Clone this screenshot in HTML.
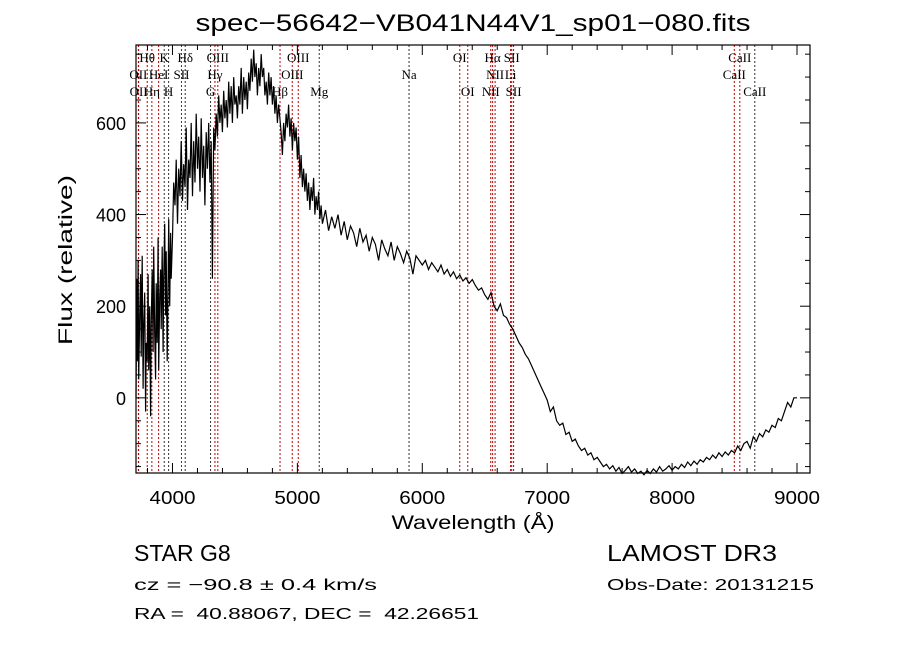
<!DOCTYPE html>
<html><head><meta charset="utf-8"><style>
body{margin:0;background:#fff;width:900px;height:649px;overflow:hidden}
svg{display:block}
text{font-family:"Liberation Sans",sans-serif;fill:#000;white-space:pre}
.ser{font-family:"Liberation Serif",serif;font-size:13px}
</style></head><body>
<svg id="chart" width="900" height="649">
<text x="473" y="31" text-anchor="middle" font-size="24" textLength="555" lengthAdjust="spacingAndGlyphs">spec−56642−VB041N44V1_sp01−080.fits</text>
<g id="lines"></g>
<g id="labels"></g>
<g id="axes"></g>
<path id="spec" fill="none" stroke="#000" stroke-width="1.2"/>
<rect x="136" y="45" width="674" height="428" fill="none" stroke="#000" stroke-width="1.2"/>
<text x="473" y="529" text-anchor="middle" font-size="19" textLength="163" lengthAdjust="spacingAndGlyphs">Wavelength (Å)</text>
<text transform="translate(72,260) rotate(-90)" text-anchor="middle" font-size="19" textLength="170" lengthAdjust="spacingAndGlyphs">Flux (relative)</text>
<text x="134" y="561" font-size="23">STAR</text>
<text x="200" y="561" font-size="23">G8</text>
<text x="134" y="590" font-size="16" textLength="243" lengthAdjust="spacingAndGlyphs">cz = −90.8 ± 0.4 km/s</text>
<text x="134" y="619" font-size="16" textLength="345" lengthAdjust="spacingAndGlyphs">RA =  40.88067, DEC =  42.26651</text>
<text x="607" y="561" font-size="23" textLength="170" lengthAdjust="spacingAndGlyphs">LAMOST DR3</text>
<text x="607" y="590" font-size="16" textLength="207" lengthAdjust="spacingAndGlyphs">Obs-Date: 20131215</text>
</svg>
<script>
const xTicks=[4000,5000,6000,7000,8000,9000];
const yTicks=[0,200,400,600];
const blueWave=[3708,3715,3720,3725,3730,3738,3745,3750,3758,3765,3770,3778,3785,3790,3798,3805,3810,3818,3825,3830,3838,3845,3850,3858,3865,3870,3878,3885,3890,3898,3905,3910,3918,3925,3930,3938,3945,3950,3958,3965,3970,3978,3985,3990,4000,4010,4020,4030,4040,4050,4060,4070,4080,4090,4100,4110,4120,4130,4140,4150,4160,4170,4180,4190,4200,4210,4220,4230,4240,4250,4260,4270,4280,4290,4300,4310,4320,4330,4340,4350,4360,4370,4380,4390,4400,4410,4420,4430,4440,4450,4460,4470,4480,4490,4500,4510,4520,4530,4540,4550,4560,4570,4580,4590,4600,4610,4620,4630,4640,4650,4660,4670,4680,4690,4700,4710,4720,4730,4740,4750,4760,4770,4780,4790,4800,4810,4820,4830,4840,4850,4860,4870,4880,4890,4900,4910,4920,4930,4940,4950,4960,4970,4980,4990,5000,5010,5020,5030,5040,5050,5060,5070,5080,5090,5100,5110,5120,5130,5140,5150,5160,5170,5180,5190];
const blueFlux=[0,260,80,300,40,180,270,90,310,20,150,230,-30,120,80,270,60,200,-40,160,280,100,330,140,40,250,120,350,60,220,280,150,330,100,260,380,180,320,80,250,390,200,360,260,350,470,420,520,380,500,440,560,430,510,460,590,410,520,480,600,440,560,470,620,500,570,450,610,480,550,420,580,500,600,470,560,260,590,540,620,570,660,600,640,580,670,610,650,590,690,620,680,600,700,640,660,610,680,640,720,620,700,650,690,630,710,670,740,690,760,700,730,660,720,680,750,700,720,660,690,640,710,660,700,640,680,620,660,600,640,610,580,530,600,560,620,590,640,570,610,540,600,560,590,520,570,480,530,460,500,450,490,430,470,410,460,430,480,400,440,410,450,390,420];
const redStart=5200, redStep=25;
const redFlux=[380,410,365,395,370,400,355,385,345,375,360,330,370,340,355,320,350,335,300,345,325,310,340,300,330,315,295,320,305,270,310,300,
290,300,280,295,285,275,290,270,280,265,275,260,268,255,262,250,258,245,235,240,
225,215,230,200,190,205,180,175,160,150,135,120,110,95,85,70,55,40,25,10,
-5,-30,-20,-50,-60,-55,-80,-75,-95,-90,-105,-115,-110,-125,-120,-135,-130,-140,-150,-145,
-155,-148,-160,-152,-165,-158,-150,-162,-155,-165,-160,-168,-158,-165,-155,-162,-150,-160,-155,-148,
-158,-150,-155,-145,-152,-140,-148,-138,-145,-135,-140,-130,-135,-125,-132,-120,-128,-118,-125,-115,
-120,-105,-115,-100,-95,-110,-85,-95,-78,-85,-70,-75,-60,-65,-45,-50,-30,-10,-20,0,0];
const lineWaves=[3727,3729,3798,3835,3889,3934,3969,4072,4102,4305,4340,4363,4861,4959,5007,5175,5894,6300,6364,6548,6563,6583,6707,6716,6731,8498,8542,8662];
const lineNames=["OII","OII","Hθ","Hη","HeI","K","H","SII","Hδ","G","Hγ","OIII","Hβ","OIII","OIII","Mg","Na","OI","OI","NII","Hα","NII","Li","SII","SII","CaII","CaII","CaII"];
const lineRows=[2,3,1,3,2,1,3,2,1,3,2,1,3,2,1,3,2,1,3,3,1,2,2,1,3,2,1,3];
const lineDark=[0,0,0,0,0,1,1,0,1,1,0,0,0,0,0,1,1,0,0,0,0,0,0,0,0,0,0,1];
const X0=136,X1=810,Y0=45,Y1=473,WMIN=3708,WMAX=9104,FMIN=-164,FMAX=770;
const xs=w=>X0+(w-WMIN)/(WMAX-WMIN)*(X1-X0);
const ys=f=>Y1-(f-FMIN)/(FMAX-FMIN)*(Y1-Y0);
const NS="http://www.w3.org/2000/svg";
function mk(tag,attrs,parent){const e=document.createElementNS(NS,tag);for(const k in attrs)e.setAttribute(k,attrs[k]);parent.appendChild(e);return e;}
const ax=document.getElementById('axes');
for(let w=3800;w<=9000;w+=200){const x=xs(w);const big=w%1000===0;
 const t=mk('line',{x1:x,x2:x,y1:Y1,y2:Y1-(big?10:5),stroke:'#000'},ax);
 
 
 const t2=mk('line',{x1:x,x2:x,y1:Y0,y2:Y0+(big?10:5),stroke:'#000'},ax);
 
 }
xTicks.forEach(w=>{const t=mk('text',{x:xs(w),y:504,'text-anchor':'middle','font-size':18,textLength:46,lengthAdjust:'spacingAndGlyphs'},ax);t.textContent=w;
 
 });
for(let f=-150;f<=750;f+=50){const y=ys(f);const big=f%200===0;
 const t=mk('line',{x1:X0,x2:X0+(big?10:5),y1:y,y2:y,stroke:'#000'},ax);
 
 
 const t2=mk('line',{x1:X1,x2:X1-(big?10:5),y1:y,y2:y,stroke:'#000'},ax);
 
 }
yTicks.forEach(f=>{const t=mk('text',{x:126,y:ys(f)+7,'text-anchor':'end','font-size':18},ax);t.textContent=f;
 
 });
const lg=document.getElementById('lines'),lb=document.getElementById('labels');
lineWaves.forEach((w,i)=>{const x=xs(w);
 const l=mk('line',{x1:x,x2:x,y1:Y0,y2:Y1,stroke:lineDark[i]?'#333':'#c00000','stroke-width':1,'stroke-dasharray':'2,2'},lg);
 
 
 const t=mk('text',{x:x,y:62+(lineRows[i]-1)*17,'text-anchor':'middle',class:'ser'},lb);t.textContent=lineNames[i];
 
 });
const wave=blueWave.concat(redFlux.map((_,i)=>redStart+i*redStep));
const flux=blueFlux.concat(redFlux);
let d='';wave.forEach((w,i)=>{if(w>WMAX)return;d+=(i?'L':'M')+xs(w).toFixed(1)+','+ys(flux[i]).toFixed(1);});
document.getElementById('spec').setAttribute('d',d);
</script>
</body></html>
